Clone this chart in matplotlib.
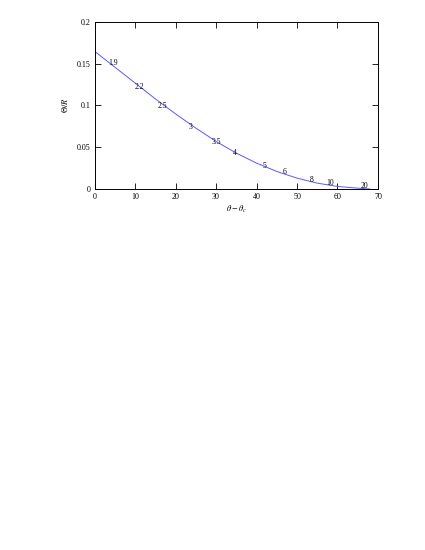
import matplotlib
matplotlib.use("Agg")
import matplotlib.pyplot as plt

# curve
curve_x = [0, 5, 10, 15, 20, 25, 30, 35, 40, 45, 50, 55, 60, 65, 68]
curve_y = [0.165, 0.146, 0.127, 0.108, 0.090, 0.073, 0.057, 0.043,
           0.031, 0.021, 0.013, 0.007, 0.003, 0.001, 0.0]

# labels sitting on the curve
label_text = ["1.9", "2.2", "2.5", "3", "3.5", "4", "5", "6", "8", "10", "20"]
label_x = [4.6, 11.2, 16.8, 23.6, 30.0, 34.7, 41.9, 46.9, 53.6, 58.1, 66.6]
label_y = [0.1505, 0.1225, 0.0994, 0.0739, 0.056, 0.0435, 0.028, 0.020,
           0.0111, 0.0068, 0.0036]

x_ticks = [0, 10, 20, 30, 40, 50, 60, 70]
y_ticks = [0, 0.05, 0.1, 0.15, 0.2]
y_ticklabels = ["0", "0.05", "0.1", "0.15", "0.2"]

plt.rcParams["font.family"] = ["Liberation Serif", "DejaVu Serif"]
plt.rcParams["mathtext.fontset"] = "stix"

fig = plt.figure(figsize=(4.25, 5.5), dpi=100)
ax = fig.add_axes([0.2224, 0.6564, 0.667, 0.3036])

ax.plot(curve_x, curve_y, color="#5a5aff", lw=0.7)
for t, x, y in zip(label_text, label_x, label_y):
    ax.text(x, y, t, fontsize=5.5, ha="center", va="center")

ax.set_xlim(0, 70)
ax.set_ylim(0, 0.2)
ax.set_xticks(x_ticks)
ax.set_yticks(y_ticks)
ax.set_yticklabels(y_ticklabels)
ax.tick_params(direction="in", length=4, width=0.6, labelsize=5.8,
               top=True, right=True, pad=3)
for s in ax.spines.values():
    s.set_linewidth(0.7)

ax.set_xlabel(r"$\theta - \theta_c$", fontsize=6, labelpad=2)
ax.set_ylabel(r"$\Theta/R$", fontsize=6, labelpad=5)

fig.savefig("out.png", dpi=100)
